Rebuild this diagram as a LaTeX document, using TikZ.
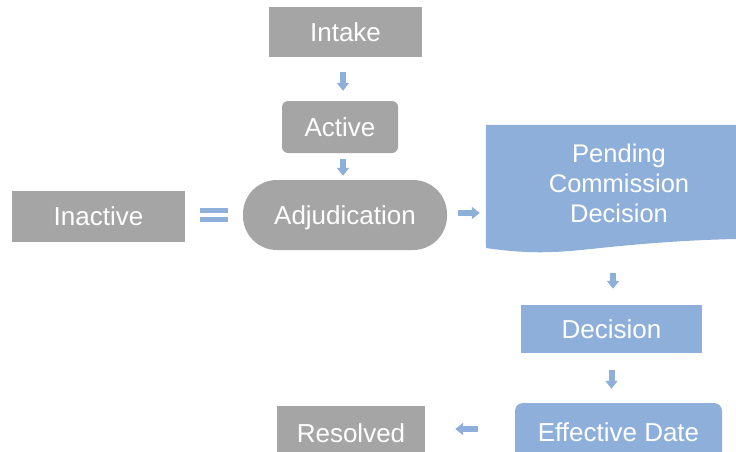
\documentclass[tikz,border=0pt]{standalone}
\usepackage{fontspec}
\setmainfont{Liberation Sans}
\usetikzlibrary{arrows.meta}
\definecolor{gry}{HTML}{A5A5A5}
\definecolor{blu}{HTML}{8EAFD9}
\begin{document}
\begin{tikzpicture}[x=1pt,y=-1pt,
  box/.style={fill=#1, text=white, inner sep=0pt, font=\fontsize{26}{30}\selectfont, text height=18.6pt, text depth=0pt},
  blk/.style={draw=blu, line width=6pt, -{Triangle[width=12pt,length=8pt]}},
  eqbar/.style={draw=blu, line width=5pt}]
\useasboundingbox (0,0) rectangle (736,452);
\node[box=gry, minimum width=153pt, minimum height=50pt] (intake) at (345.5,32) {Intake};
\node[box=gry, minimum width=116pt, minimum height=52pt, rounded corners=6pt] (active) at (340,127) {Active};
\node[box=gry, minimum width=204pt, minimum height=70pt, rounded corners=34pt] (adj) at (345,215) {Adjudication};
\node[box=gry, minimum width=173pt, minimum height=51pt] (inactive) at (98.5,216.5) {Inactive};
\node[inner sep=0pt, minimum width=250pt, minimum height=124pt] (pend) at (611,187) {};
\fill[blu] (pend.north west) -- (pend.north east) -- (736,239)
  .. controls (690,240) and (650,243) .. (610,247)
  .. controls (570,251) and (540,256) .. (486,248) -- cycle;
\node[text=white, align=center, font=\fontsize{25.5}{30}\selectfont] (pendtxt) at (619,183) {Pending\\Commission\\Decision};
\node[box=blu, minimum width=181pt, minimum height=48pt] (decision) at (611.5,329) {Decision};
\node[box=blu, minimum width=207pt, minimum height=58pt, rounded corners=8pt] (eff) at (618.5,432) {Effective Date};
\node[box=gry, minimum width=148pt, minimum height=54pt] (resolved) at (351,433) {Resolved};
% connectors
\draw[blk, shorten <=15pt, shorten >=10pt] (intake.south -| 343,0) -- (active.north -| 343,0);
\draw[blk, shorten <=6pt, shorten >=4pt] (active.south -| 343,0) -- (adj.north -| 343,0);
\draw[eqbar, shorten <=15pt, shorten >=15pt] ([yshift=4.5pt]adj.west -| inactive.east) -- ([yshift=4.5pt]adj.west);
\draw[eqbar, shorten <=15pt, shorten >=15pt] ([yshift=-4.5pt]adj.west -| inactive.east) -- ([yshift=-4.5pt]adj.west);
\draw[blk, shorten <=11pt, shorten >=6pt] ([yshift=2pt]adj.east) -- ([yshift=2pt]adj.east -| pend.west);
\draw[blk, shorten <=24pt, shorten >=16pt] (613,249) coordinate (pb) -- (pb |- decision.north);
\draw[blk, shorten <=17pt, shorten >=14pt] (decision.south) -- (decision.south |- eff.north);
\draw[blk, shorten <=37pt, shorten >=30pt] ([yshift=3pt]eff.west) -- ([yshift=3pt]eff.west -| resolved.east);
\end{tikzpicture}
\end{document}
